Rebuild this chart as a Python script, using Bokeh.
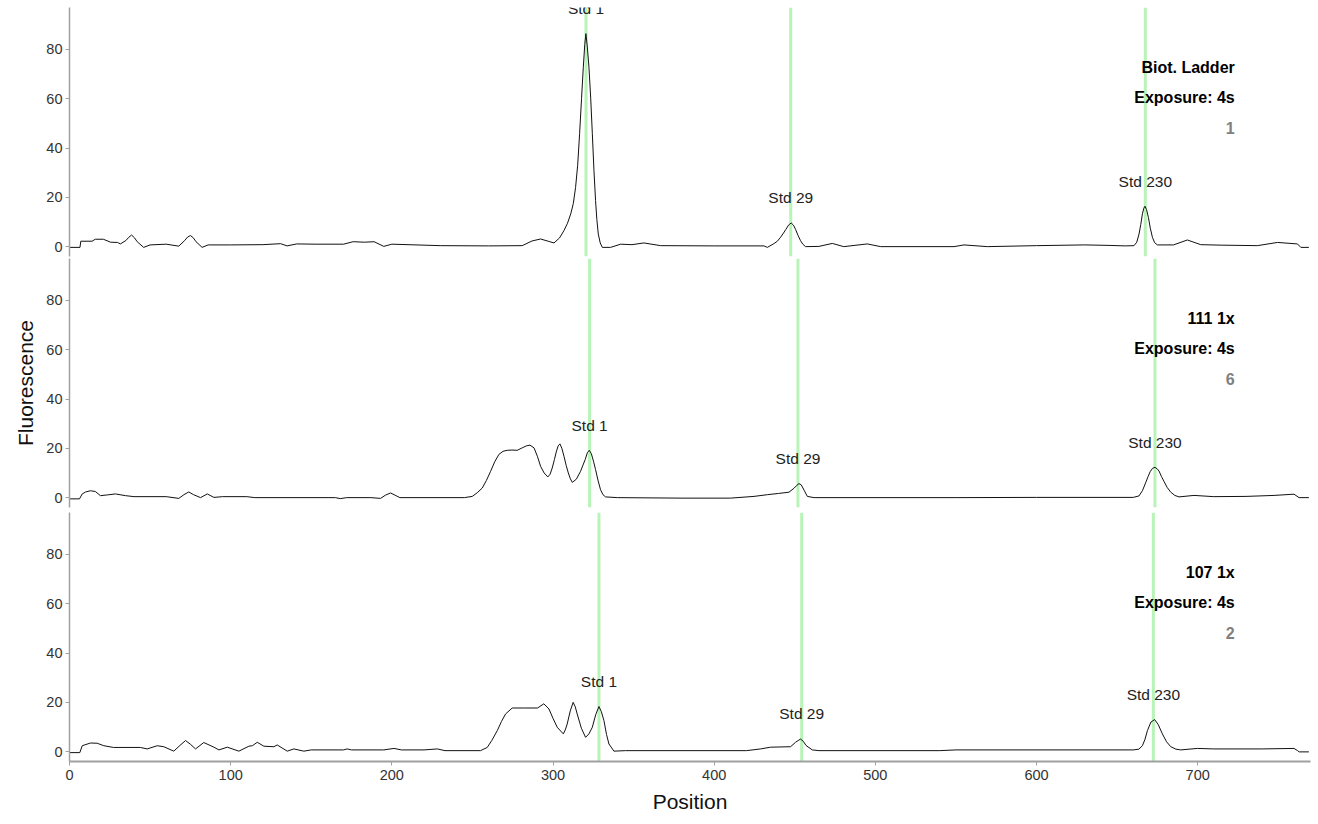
from bokeh.plotting import figure
from bokeh.layouts import column
from bokeh.models import ColumnDataSource, Span, SingleIntervalTicker, Range1d
from bokeh.core.properties import value
from bokeh.embed import file_html
from bokeh.resources import INLINE

# ---------------- data ----------------
lane_names = ["Biot. Ladder", "111 1x", "107 1x"]
lane_numbers = ["1", "6", "2"]
exposure = "Exposure: 4s"
std_labels = ["Std 1", "Std 29", "Std 230"]

pos_1 = [0, 6.5, 7, 14, 16, 21, 25.5, 29.8, 31.6, 35,
         36.8, 38.5, 40.3, 42, 46, 50, 60, 67.8, 71.5, 73.3,
         75, 76.8, 78.5, 82.3, 86, 100, 120, 131, 135, 141,
         153, 170, 176, 183, 189, 195, 200, 230, 260, 280.9,
         287, 292.3, 297, 300.6, 304, 306.8, 309, 311, 312.6, 314,
         315.3, 316.5, 317.7, 318.8, 319.7, 320.4, 321.3, 322.3, 323.4, 324.4,
         325.4, 326.4, 327.2, 328.1, 329.3, 330.6, 335.7, 342, 349, 356.4,
         366.8, 400, 430.9, 433, 437, 439.2, 441.2, 443, 444.5, 446.2,
         447.8, 449.2, 450.5, 452, 453.6, 455, 456.7, 465, 473.3, 480.4,
         495, 503.3, 548.8, 555, 569.5, 600, 630, 645, 655, 660.5,
         662.2, 663.6, 664.7, 665.7, 666.6, 667.3, 668.3, 669.4, 670.6, 671.9,
         673.3, 675, 685, 693.6, 701.9, 715, 737, 749.5, 761.9, 764,
         769]
fluo_1 = [-0.3, -0.3, 2.2, 2.2, 3.0, 3.0, 1.8, 1.7, 1.1, 2.5,
          3.8, 4.7, 3.6, 2.0, -0.3, 0.7, 1.0, 0.2, 2.5, 3.9,
          4.5, 3.6, 2.0, -0.3, 0.7, 0.7, 0.8, 1.2, 0.3, 1.1,
          1.0, 1.0, 2.0, 1.8, 2.0, 0.1, 1.0, 0.4, 0.3, 0.4,
          2.3, 3.1, 2.2, 1.5, 3.5, 6.5, 9.5, 13.3, 17.5, 24.0,
          33.0, 45.8, 60.0, 72.8, 82.0, 86.4, 81.0, 72.8, 60.0, 45.8,
          31.0, 18.7, 11.0, 5.1, 1.5, -0.3, -0.3, 1.0, 0.8, 1.5,
          0.4, 0.3, 0.3, -0.3, 1.2, 2.2, 3.8, 5.5, 7.0, 8.8,
          9.6, 8.7, 7.0, 4.6, 2.4, 1.0, 0.0, 0.1, 1.3, 0.0,
          1.1, 0.0, 0.0, 0.7, 0.0, 0.4, 0.7, 0.5, 0.3, 0.4,
          1.8, 5.1, 9.0, 13.3, 15.6, 16.4, 15.0, 11.9, 7.5, 3.8,
          1.6, 0.7, 0.7, 2.7, 0.8, 0.6, 0.4, 1.7, 1.1, -0.3,
          -0.3]

pos_2 = [0, 6.2, 7.9, 10, 13, 16, 19.2, 23.4, 28.5, 34.8,
         40, 60, 67.8, 71, 74, 77, 81.3, 85.5, 89.6, 95,
         110, 115, 165, 168, 172, 187, 193, 196, 199.2, 202,
         205, 245, 249.9, 253, 256.1, 258.7, 261.3, 263.8, 266.4, 269,
         271.6, 274.5, 277.8, 280.9, 283.5, 285.7, 288.2, 290.3, 292.3, 294.5,
         296.8, 298.2, 299.5, 300.9, 302, 303.2, 304.3, 305.5, 306.8, 308.2,
         309.5, 310.8, 312, 314.5, 317.1, 318.6, 320, 321.3, 322.5, 323.8,
         325.1, 326.4, 328, 329.5, 331, 332.6, 340, 380, 410, 424.7,
         433, 440, 446.4, 449.5, 451.3, 452.6, 454, 455.8, 457.8, 462,
         550, 600, 660, 663.6, 665.7, 667.7, 669.2, 670.5, 672, 673.5,
         675, 676, 677.5, 679.1, 681, 683.3, 685.8, 688.4, 697.7, 710,
         730, 747.4, 759.8, 762.9, 769]
fluo_2 = [-0.5, -0.5, 1.5, 2.3, 2.8, 2.5, 0.8, 1.1, 1.5, 0.8,
          0.4, 0.4, -0.3, 1.2, 2.3, 1.2, 0.0, 1.5, 0.1, 0.4,
          0.4, 0.0, 0.0, -0.4, 0.0, 0.0, -0.3, 1.0, 1.9, 1.0,
          0.0, 0.0, 0.5, 2.0, 3.9, 7.0, 10.7, 14.5, 17.5, 18.8,
          19.2, 19.3, 19.2, 20.2, 21.0, 21.3, 20.2, 16.8, 12.7, 10.0,
          8.4, 9.5, 12.0, 15.5, 18.5, 21.0, 21.8, 20.0, 16.8, 13.0,
          10.0, 7.6, 6.2, 7.5, 10.7, 13.2, 15.5, 18.2, 19.2, 17.8,
          14.8, 11.4, 6.8, 3.2, 1.2, 0.3, 0.0, -0.2, -0.2, 0.5,
          1.2, 1.7, 2.2, 3.8, 5.0, 5.7, 5.2, 3.0, 0.5, 0.0,
          0.0, 0.1, 0.1, 0.7, 2.8, 6.0, 8.5, 10.5, 11.9, 12.3,
          11.6, 10.8, 8.6, 6.6, 4.2, 2.2, 0.9, 0.3, 0.9, 0.4,
          0.5, 0.9, 1.4, 0.0, 0.0]

pos_3 = [0, 6.4, 7.9, 13, 17.2, 21.3, 27.3, 44, 48.2, 54.4,
         58.5, 64.7, 68.5, 72, 75, 78.2, 83.3, 89.6, 92.7, 97.9,
         105.1, 111.3, 113.5, 116.5, 120.6, 126.8, 128.9, 135.1, 139.2, 145.4,
         150, 170, 172.3, 175, 195, 201.3, 206, 220, 228.2, 233,
         255, 259.2, 262, 265.4, 268, 270.6, 274.7, 281.8, 290.4, 294.3,
         297.5, 300, 302.6, 306.4, 307.6, 308.8, 310.7, 312.5, 313.8, 315,
         317.6, 320.2, 322.3, 324.4, 326.5, 328.5, 330, 331.6, 333.2, 334.7,
         337.8, 345, 420, 428.8, 435, 447.4, 450.5, 452.6, 453.6, 455.3,
         457, 460.9, 465, 540, 550, 660, 663.5, 665.7, 667.3, 668.8,
         671, 673.3, 675.5, 678.1, 680.7, 683.3, 686.5, 689.5, 699.8, 710,
         740, 759.8, 762, 763, 769]
fluo_3 = [-0.4, -0.4, 2.4, 3.5, 3.4, 2.4, 1.7, 1.7, 1.1, 2.4,
          2.0, 0.2, 2.5, 4.5, 3.0, 1.1, 3.7, 1.8, 0.7, 1.8,
          0.2, 2.2, 2.4, 3.8, 2.2, 2.0, 2.7, 0.2, 1.1, 0.2,
          0.7, 0.7, 1.1, 0.7, 0.7, 1.3, 0.7, 0.7, 1.1, 0.4,
          0.4, 1.7, 4.5, 8.5, 12.2, 15.3, 17.7, 17.7, 17.7, 19.4,
          17.3, 13.5, 9.9, 7.2, 8.8, 11.2, 16.5, 20.0, 18.2, 15.3,
          9.5, 5.8, 7.2, 9.9, 15.0, 18.3, 16.2, 12.6, 7.0, 3.1,
          0.2, 0.4, 0.4, 1.1, 1.8, 2.0, 3.8, 4.7, 5.1, 4.2,
          2.5, 0.7, 0.4, 0.4, 0.7, 0.7, 1.0, 2.4, 5.0, 8.5,
          12.0, 13.0, 11.0, 7.2, 4.0, 2.0, 1.0, 0.7, 1.3, 1.1,
          1.1, 1.3, 0.4, -0.1, -0.1]

std_pos_1 = [320.5, 447.5, 667.5]
std_pos_2 = [322.7, 452.0, 673.5]
std_pos_3 = [328.5, 454.3, 672.5]
std_peak_1 = [86.4, 9.6, 16.4]
std_peak_2 = [19.2, 5.7, 12.3]
std_peak_3 = [18.3, 5.1, 13.0]

x_ticks_interval = 100
y_ticks_interval = 20

# ---------------- plotting ----------------
FONT = "Liberation Sans"
positions = [pos_1, pos_2, pos_3]
fluos = [fluo_1, fluo_2, fluo_3]
std_positions = [std_pos_1, std_pos_2, std_pos_3]
std_peaks = [std_peak_1, std_peak_2, std_peak_3]

x_range = Range1d(0, 770)
frame_h = 249
top_borders = [7, 0, 0]
bottom_borders = [2, 5, 55]
figs = []
for i in range(3):
    last = i == 2
    p = figure(width=1313, height=top_borders[i] + frame_h + bottom_borders[i],
               x_range=x_range, y_range=Range1d(-4, 97),
               output_backend="svg", toolbar_location=None,
               x_axis_location="below" if last else None,
               min_border_left=69, min_border_right=3, min_border_top=top_borders[i],
               min_border_bottom=bottom_borders[i], title=None)
    p.outline_line_color = None
    p.xgrid.grid_line_color = None
    p.ygrid.grid_line_color = None
    p.background_fill_color = "white"
    p.border_fill_color = "white"

    for sx in std_positions[i]:
        p.add_layout(Span(location=sx, dimension="height", line_color="#b8f4b8",
                          line_width=3, level="underlay"))

    src = ColumnDataSource(dict(x=positions[i], y=fluos[i]))
    p.line("x", "y", source=src, line_color="#111111", line_width=1)

    lab = ColumnDataSource(dict(x=std_positions[i],
                                y=[v + 10.2 for v in std_peaks[i]],
                                t=std_labels))
    p.text("x", "y", text="t", source=lab, text_align="center", text_baseline="middle",
           text_font=value(FONT), text_font_size="15.5px", text_color="#222222")

    p.text(x=[723], y=[72.5], text=[lane_names[i]], text_align="right",
           text_baseline="middle", text_font=value(FONT), text_font_size="16px",
           text_font_style="bold", text_color="#000000")
    p.text(x=[723], y=[60.5], text=[exposure], text_align="right",
           text_baseline="middle", text_font=value(FONT), text_font_size="16px",
           text_font_style="bold", text_color="#000000")
    p.text(x=[723], y=[48.3], text=[lane_numbers[i]], text_align="right",
           text_baseline="middle", text_font=value(FONT), text_font_size="16px",
           text_font_style="bold", text_color="#808080")

    ya = p.yaxis[0]
    ya.ticker = SingleIntervalTicker(interval=y_ticks_interval, num_minor_ticks=0)
    ya.axis_line_color = "#a0a0a0"
    ya.axis_line_width = 1.5
    ya.major_tick_line_color = "#a0a0a0"
    ya.major_tick_out = 4
    ya.major_tick_in = 0
    ya.minor_tick_line_color = None
    ya.major_label_standoff = 3
    ya.major_label_text_font = FONT
    ya.major_label_text_font_size = "14.5px"
    ya.major_label_text_color = "#333333"
    if i == 1:
        ya.axis_label = "Fluorescence"
        ya.axis_label_text_font = FONT
        ya.axis_label_text_font_size = "21px"
        ya.axis_label_text_font_style = "normal"
        ya.axis_label_text_color = "#111111"
        ya.axis_label_standoff = 6

    if last:
        xa = p.xaxis[0]
        xa.ticker = SingleIntervalTicker(interval=x_ticks_interval, num_minor_ticks=0)
        xa.axis_line_color = "#a0a0a0"
        xa.axis_line_width = 2
        xa.major_tick_line_color = "#a0a0a0"
        xa.major_tick_out = 4
        xa.major_tick_in = 0
        xa.minor_tick_line_color = None
        xa.major_label_standoff = 4
        xa.major_label_text_font = FONT
        xa.major_label_text_font_size = "14.5px"
        xa.major_label_text_color = "#333333"
        xa.axis_label = "Position"
        xa.axis_label_text_font = FONT
        xa.axis_label_text_font_size = "21px"
        xa.axis_label_text_font_style = "normal"
        xa.axis_label_text_color = "#111111"
        xa.axis_label_standoff = 7
    figs.append(p)

layout = column(*figs, spacing=0)
open("out.html", "w").write(file_html(layout, INLINE))
